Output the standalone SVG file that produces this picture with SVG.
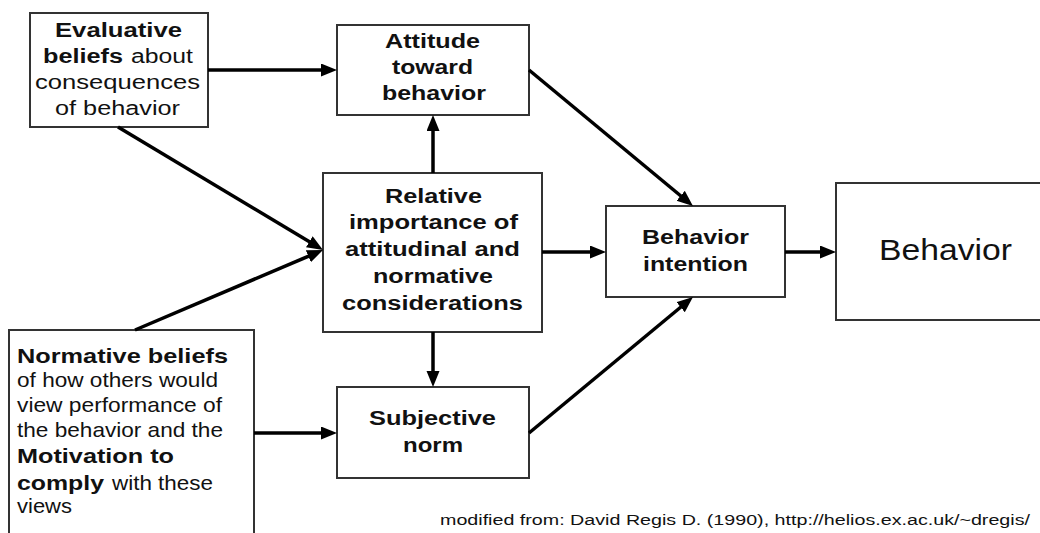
<svg xmlns="http://www.w3.org/2000/svg" width="1040" height="533" viewBox="0 0 1040 533">
<defs>
<marker id="ah" markerUnits="userSpaceOnUse" markerWidth="18" markerHeight="14" refX="5" refY="6.5" orient="auto">
<path d="M0,0 L16,6.5 L0,13 z" fill="#000"/>
</marker>
<style>
.box{fill:#fff;stroke:#333;stroke-width:2}
text{font-family:"Liberation Sans",Arial,sans-serif;fill:#111}
.b{font-weight:bold;font-size:20px}
.r{font-size:20px}
.nb{font-weight:bold;font-size:21px}
.nr{font-size:21px}
.con line{stroke:#000;stroke-width:3.5;marker-end:url(#ah)}
</style>
</defs>
<rect width="1040" height="533" fill="#fff"/>

<g id="evaluative">
<rect class="box" x="30" y="13" width="178" height="114"/>
<text class="b" x="55" y="37" textLength="127" lengthAdjust="spacingAndGlyphs">Evaluative</text>
<text class="b" x="43" y="63" textLength="80" lengthAdjust="spacingAndGlyphs">beliefs</text>
<text class="r" x="131" y="63" textLength="62" lengthAdjust="spacingAndGlyphs">about</text>
<text class="r" x="35" y="89" textLength="165" lengthAdjust="spacingAndGlyphs">consequences</text>
<text class="r" x="55" y="115" textLength="125" lengthAdjust="spacingAndGlyphs">of behavior</text>
</g>

<g id="attitude">
<rect class="box" x="337" y="25" width="192" height="90"/>
<text class="b" x="385" y="48" textLength="95" lengthAdjust="spacingAndGlyphs">Attitude</text>
<text class="b" x="392" y="74" textLength="81" lengthAdjust="spacingAndGlyphs">toward</text>
<text class="b" x="382" y="100" textLength="104" lengthAdjust="spacingAndGlyphs">behavior</text>
</g>

<g id="relative">
<rect class="box" x="323" y="173" width="219" height="159"/>
<text class="b" x="385" y="203" textLength="97" lengthAdjust="spacingAndGlyphs">Relative</text>
<text class="b" x="349" y="229" textLength="169" lengthAdjust="spacingAndGlyphs">importance of</text>
<text class="b" x="345" y="256" textLength="175" lengthAdjust="spacingAndGlyphs">attitudinal and</text>
<text class="b" x="373" y="283" textLength="120" lengthAdjust="spacingAndGlyphs">normative</text>
<text class="b" x="342" y="310" textLength="181" lengthAdjust="spacingAndGlyphs">considerations</text>
</g>

<g id="subjective">
<rect class="box" x="337" y="387" width="192" height="91"/>
<text class="b" x="369" y="425" textLength="127" lengthAdjust="spacingAndGlyphs">Subjective</text>
<text class="b" x="403" y="452" textLength="60" lengthAdjust="spacingAndGlyphs">norm</text>
</g>

<g id="intention">
<rect class="box" x="606" y="206" width="179" height="91"/>
<text class="b" x="642" y="244" textLength="107" lengthAdjust="spacingAndGlyphs">Behavior</text>
<text class="b" x="643" y="271" textLength="105" lengthAdjust="spacingAndGlyphs">intention</text>
</g>

<g id="behavior">
<rect class="box" x="836" y="183" width="212" height="137"/>
<text x="879" y="260" font-size="30" textLength="133" lengthAdjust="spacingAndGlyphs">Behavior</text>
</g>

<g id="normative">
<rect class="box" x="9" y="330" width="245" height="215"/>
<text class="nb" x="17" y="363" textLength="211" lengthAdjust="spacingAndGlyphs">Normative beliefs</text>
<text class="nr" x="17" y="387" textLength="201" lengthAdjust="spacingAndGlyphs">of how others would</text>
<text class="nr" x="17" y="412" textLength="205" lengthAdjust="spacingAndGlyphs">view performance of</text>
<text class="nr" x="17" y="437" textLength="206" lengthAdjust="spacingAndGlyphs">the behavior and the</text>
<text class="nb" x="17" y="463" textLength="157" lengthAdjust="spacingAndGlyphs">Motivation to</text>
<text class="nb" x="17" y="490" textLength="87" lengthAdjust="spacingAndGlyphs">comply</text>
<text class="nr" x="112" y="490" textLength="101" lengthAdjust="spacingAndGlyphs">with these</text>
<text class="nr" x="17" y="513" textLength="55" lengthAdjust="spacingAndGlyphs">views</text>
</g>

<g id="connectors" class="con">
<line x1="208" y1="70" x2="326" y2="70"/>
<line x1="118" y1="127" x2="313.6" y2="244.3"/>
<line x1="135" y1="330" x2="312.9" y2="254.3"/>
<line x1="433" y1="173" x2="433" y2="126"/>
<line x1="433" y1="332" x2="433" y2="376"/>
<line x1="542" y1="252" x2="595" y2="252"/>
<line x1="529" y1="70" x2="684.5" y2="199"/>
<line x1="529" y1="433" x2="684.5" y2="304"/>
<line x1="254" y1="433" x2="326" y2="433"/>
<line x1="785" y1="252" x2="825" y2="252"/>
</g>

<text id="footer" x="440" y="525" font-size="14" textLength="590" lengthAdjust="spacingAndGlyphs">modified from: David Regis D. (1990), http://helios.ex.ac.uk/~dregis/</text>
</svg>
